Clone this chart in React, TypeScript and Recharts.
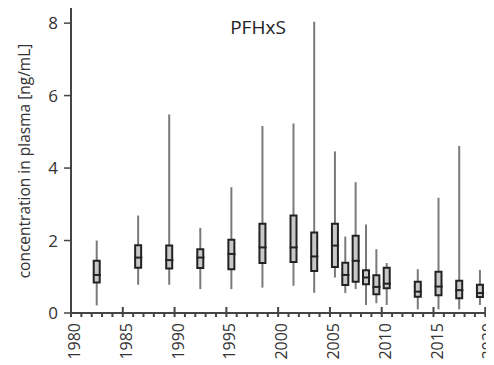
import { ComposedChart, Bar, Scatter, XAxis, YAxis, ReferenceArea } from 'recharts';

// PFHxS plasma concentrations, box plots per sampling year
const years = [1982.5, 1986.5, 1989.5, 1992.5, 1995.5, 1998.5, 2001.5, 2003.5, 2005.5, 2006.5, 2007.5, 2008.5, 2009.5, 2010.5, 2013.5, 2015.5, 2017.5, 2019.5];
const low = [0.21, 0.78, 0.78, 0.66, 0.66, 0.7, 0.75, 0.56, 0.98, 0.55, 0.66, 0.22, 0.27, 0.22, 0.1, 0.1, 0.1, 0.22];
const q1 = [0.84, 1.25, 1.23, 1.24, 1.21, 1.38, 1.41, 1.16, 1.27, 0.77, 0.86, 0.79, 0.52, 0.68, 0.45, 0.49, 0.41, 0.44];
const median = [1.05, 1.53, 1.46, 1.53, 1.63, 1.81, 1.81, 1.56, 1.86, 1.05, 1.44, 0.98, 0.72, 0.81, 0.59, 0.73, 0.63, 0.55];
const q3 = [1.44, 1.87, 1.86, 1.76, 2.02, 2.46, 2.69, 2.22, 2.46, 1.39, 2.13, 1.18, 1.04, 1.25, 0.86, 1.14, 0.89, 0.78];
const high = [2.0, 2.69, 5.48, 2.35, 3.47, 5.16, 5.23, 8.04, 4.46, 2.11, 3.61, 2.44, 1.76, 1.38, 1.21, 3.18, 4.61, 1.19];
const yTicks = [0, 2, 4, 6, 8];
const xTicks = Array.from({ length: 43 }, (_, i) => 1980 + i);

const data = years.map((year, i) => ({
  year,
  whisker: [low[i], high[i]],
  box: [q1[i], q3[i]],
  median: median[i],
}));

const FONT = '"Open Sans", sans-serif';
const AXIS = '#444';

// one tick per year, longer ticks + rotated label every 5 years
function YearTick({ x, y, payload }: any) {
  const v = payload.value;
  const major = v % 5 === 0;
  return (
    <g>
      <path d={`M${x},${major ? y - 6 : y}V${y + 4}`} stroke={AXIS} strokeWidth={2} fill="none" />
      {major && (
        <text
          transform={`translate(${x + 3},${y + 10}) rotate(-90)`}
          textAnchor="end"
          dominantBaseline="central"
          fontFamily={FONT}
          fontSize={16}
          fill="#333"
        >
          {v}
        </text>
      )}
    </g>
  );
}

const MedianMark = ({ cx, cy }: any) => (
  <line x1={cx - 4} x2={cx + 4} y1={cy} y2={cy} stroke="#222" strokeWidth={2} />
);

export default function App() {
  return (
    <div style={{ margin: '-8px 0 0 -8px', width: 494, height: 365, overflow: 'hidden' }}>
      <ComposedChart width={506} height={365} data={data} margin={{ top: 5, right: 0, bottom: 0, left: 0 }}>
        <XAxis
          xAxisId="main"
          dataKey="year"
          type="number"
          domain={[1980, 2022]}
          ticks={xTicks}
          interval={0}
          tick={<YearTick />}
          tickLine={false}
          tickSize={0}
          tickMargin={0}
          height={52}
          axisLine={{ stroke: AXIS, strokeWidth: 2 }}
        />
        <XAxis xAxisId="w" orientation="top" dataKey="year" type="number" domain={[1980, 2022]} hide />
        <XAxis xAxisId="b" orientation="top" dataKey="year" type="number" domain={[1980, 2022]} hide />
        <YAxis
          type="number"
          domain={[0, 8.5]}
          ticks={yTicks}
          width={71}
          tickSize={7}
          tickMargin={6}
          tick={{ fontFamily: FONT, fontSize: 17, fill: '#333' }}
          tickLine={{ stroke: AXIS, strokeWidth: 1.5 }}
          axisLine={{ stroke: AXIS, strokeWidth: 2 }}
          label={{
            content: ({ viewBox }: any) => (
              <text
                transform={`translate(${viewBox.x + 24},${viewBox.y + viewBox.height / 2 + 2}) rotate(-90)`}
                textAnchor="middle"
                dominantBaseline="central"
                fontFamily={FONT}
                fontSize={15.5}
                fill="#333"
              >
                concentration in plasma [ng/mL]
              </text>
            ),
          }}
        />
        {/* plot frame (top edge) */}
        <ReferenceArea
          xAxisId="main"
          x1={1980}
          x2={2022}
          y1={0}
          y2={8.5}
          fill="none"
          fillOpacity={0}
          stroke={AXIS}
          strokeWidth={2}
          ifOverflow="visible"
        />
        <Bar xAxisId="w" dataKey="whisker" barSize={2} fill="#7a7a7a" isAnimationActive={false} />
        <Bar xAxisId="b" dataKey="box" barSize={6} fill="#c8c8c8" stroke="#222" strokeWidth={2} isAnimationActive={false} />
        <Scatter xAxisId="main" dataKey="median" shape={<MedianMark />} isAnimationActive={false} />
        <text x={258} y={27} textAnchor="middle" dominantBaseline="central" fontFamily={FONT} fontSize={19} fill="#222">
          PFHxS
        </text>
      </ComposedChart>
    </div>
  );
}
